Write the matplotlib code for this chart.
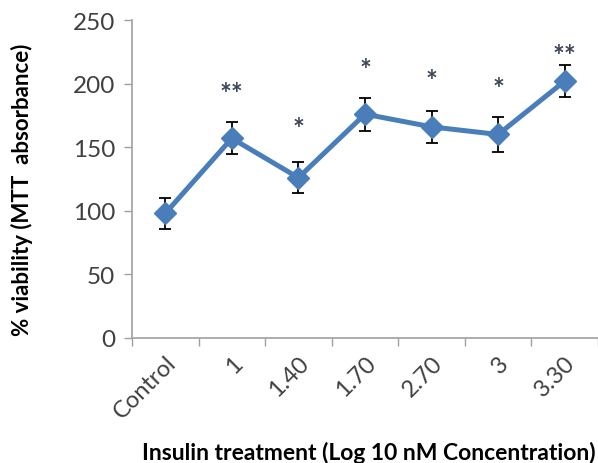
import matplotlib
matplotlib.use("Agg")
import matplotlib.pyplot as plt
import numpy as np

categories = ["Control", "1", "1.40", "1.70", "2.70", "3", "3.30"]
viability = [98, 157, 126, 176, 166, 160, 202]
errors = [12, 12.5, 12, 13, 12.5, 13.5, 12.5]
sig_marks = ["", "**", "*", "*", "*", "*", "**"]
sig_heights = [0, 192, 164, 211, 202, 196, 222]
y_ticks = [0, 50, 100, 150, 200, 250]

plt.rcParams['font.family'] = ['Lato', 'DejaVu Sans']

fig = plt.figure(figsize=(5.98, 4.64), dpi=100)
ax = fig.add_axes([0.2207, 0.2694, 0.7793, 0.6853])

x = np.arange(len(categories))
ax.errorbar(x, viability, yerr=errors, fmt='none', ecolor='black',
            elinewidth=1.3, capsize=4, capthick=1.3, zorder=2)
ax.plot(x, viability, color='#4a7ebb', linewidth=3.6, marker='D',
        markersize=11.5, markerfacecolor='#4a7ebb', markeredgecolor='#4a7ebb', zorder=3)

for xi, s, h in zip(x, sig_marks, sig_heights):
    if s:
        ax.text(xi, h, s, ha='center', va='center', fontsize=20,
                color='#3c4558', fontweight='bold')

ax.set_xlim(-0.5, len(categories) - 0.5)
ax.set_ylim(0, 250)
ax.set_yticks(y_ticks)
ax.set_yticklabels([str(v) for v in y_ticks], fontsize=17.5, color='#404040')

ax.set_xticks(x)
ax.set_xticklabels(categories, rotation=45, ha='right', va='top',
                   rotation_mode='anchor', fontsize=17, color='#404040')
ax.set_xticks(np.arange(-0.5, len(categories) + 0.5, 1), minor=True)
ax.tick_params(axis='x', which='major', length=0, pad=10)
ax.tick_params(axis='x', which='minor', length=6, width=1, color='#a0a0a0')
ax.tick_params(axis='y', length=6, width=1, color='#a0a0a0', pad=6)

for side in ['top', 'right']:
    ax.spines[side].set_visible(False)
for side in ['left', 'bottom']:
    ax.spines[side].set_color('#a0a0a0')
    ax.spines[side].set_linewidth(1.2)

fig.text(22 / 598, 1 - 190 / 464, "% viability (MTT  absorbance)", rotation=90,
         ha='center', va='center', fontsize=16, fontweight='bold', color='black')
fig.text(369 / 598, 1 - 453 / 464, "Insulin treatment (Log 10 nM Concentration)",
         ha='center', va='center', fontsize=16.5, fontweight='bold', color='black')

fig.savefig("out.png", dpi=100)
